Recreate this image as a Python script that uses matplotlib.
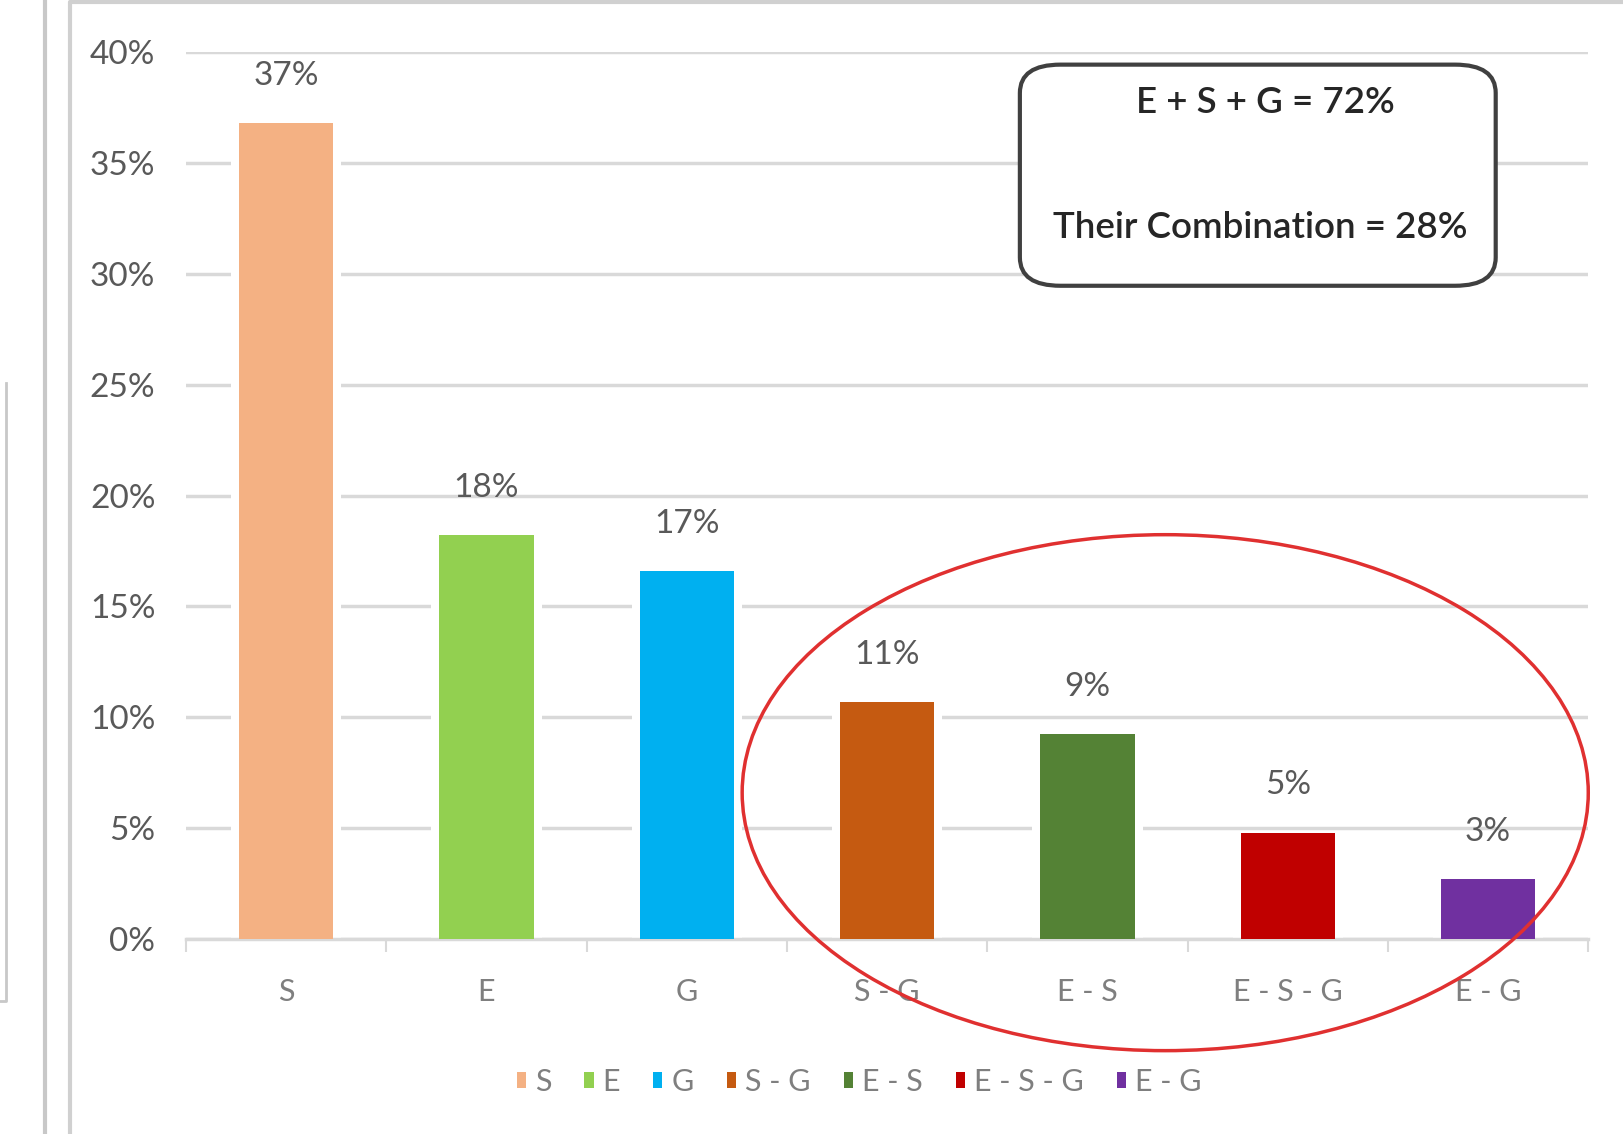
import matplotlib.pyplot as plt
from matplotlib.patches import Ellipse, FancyBboxPatch, Patch
from matplotlib.lines import Line2D

# data
categories = ['S', 'E', 'G', 'S - G', 'E - S', 'E - S - G', 'E - G']
values = [36.8, 18.2, 16.6, 10.7, 9.25, 4.8, 2.7]
value_labels = ['37%', '18%', '17%', '11%', '9%', '5%', '3%']
colors = ['#F4B183', '#92D050', '#00B0F0', '#C55A11', '#548235', '#C00000', '#7030A0']
yticks = [0, 5, 10, 15, 20, 25, 30, 35, 40]
box_lines = ['E + S + G = 72%', 'Their Combination = 28%']

plt.rcParams['font.family'] = ['Lato', 'DejaVu Sans']

fig = plt.figure(figsize=(16.24, 11.34), dpi=100)
ax = fig.add_axes([0.1145, 0.172, 0.8635, 0.782])

x = list(range(len(categories)))
# white halo bars break the gridlines beside each bar, like the Excel original
ax.bar(x, values, width=0.55, color='white', zorder=2)
ax.bar(x, values, width=0.47, color=colors, zorder=3)

for xi, v, lab in zip(x, values, value_labels):
    ax.annotate(lab, (xi, v), xytext=(0, 34), textcoords='offset points',
                ha='center', va='center', fontsize=24, color='#595959')

ax.set_xlim(-0.5, len(categories) - 0.5)
ax.set_ylim(0, 40)
ax.set_yticks(yticks)
ax.set_yticklabels([f'{t}%' for t in yticks], fontsize=24, color='#595959')
ax.set_xticks(x)
ax.set_xticklabels(categories, fontsize=22, color='#7f7f7f')
ax.tick_params(axis='y', length=0, pad=22)
ax.tick_params(axis='x', length=0, pad=28)
ax.set_xticks([i - 0.5 for i in range(len(categories) + 1)], minor=True)
ax.tick_params(axis='x', which='minor', length=9, width=1.5, color='#d9d9d9')

ax.grid(axis='y', color='#d9d9d9', linewidth=2.5, zorder=0)
for s in ['top', 'right', 'left']:
    ax.spines[s].set_visible(False)
ax.spines['bottom'].set_color('#d9d9d9')
ax.spines['bottom'].set_linewidth(2.5)

# legend
handles = [Patch(facecolor=c, label=l) for c, l in zip(colors, categories)]
leg = fig.legend(handles=handles, loc='center', bbox_to_anchor=(0.529, 0.046), ncol=7,
                 frameon=False, fontsize=22, handlelength=0.3, handleheight=0.45,
                 handletextpad=0.3, columnspacing=1.08)
for t in leg.get_texts():
    t.set_color('#7f7f7f')

# text box in upper right
box = FancyBboxPatch((0.628, 0.748), 0.293, 0.195, transform=fig.transFigure,
                     boxstyle='round,pad=0,rounding_size=0.025', facecolor='white',
                     edgecolor='#404040', linewidth=3, zorder=5)
fig.patches.append(box)
fig.text(0.779, 0.910, box_lines[0], ha='center', va='center', fontsize=26.5,
         fontweight='semibold', color='#262626', zorder=6)
fig.text(0.776, 0.799, box_lines[1], ha='center', va='center', fontsize=26.5,
         fontweight='semibold', color='#262626', zorder=6)

# red ellipse around the combinations
ell = Ellipse((0.7175, 0.301), 0.521, 0.455, transform=fig.transFigure,
              facecolor='none', edgecolor='#e03030', linewidth=2.5, zorder=7)
fig.patches.append(ell)

# screenshot frame lines
fig.add_artist(Line2D([0.028, 0.028], [0, 1], transform=fig.transFigure, color='#c8c8c8', lw=3))
fig.add_artist(Line2D([0.043, 0.043, 1.0], [0, 0.998, 0.998], transform=fig.transFigure,
                      color='#d0d0d0', lw=3))
fig.add_artist(Line2D([0.0, 0.004, 0.004], [0.117, 0.117, 0.662], transform=fig.transFigure,
                      color='#c8c8c8', lw=2))

fig.savefig('out.png', dpi=100)
